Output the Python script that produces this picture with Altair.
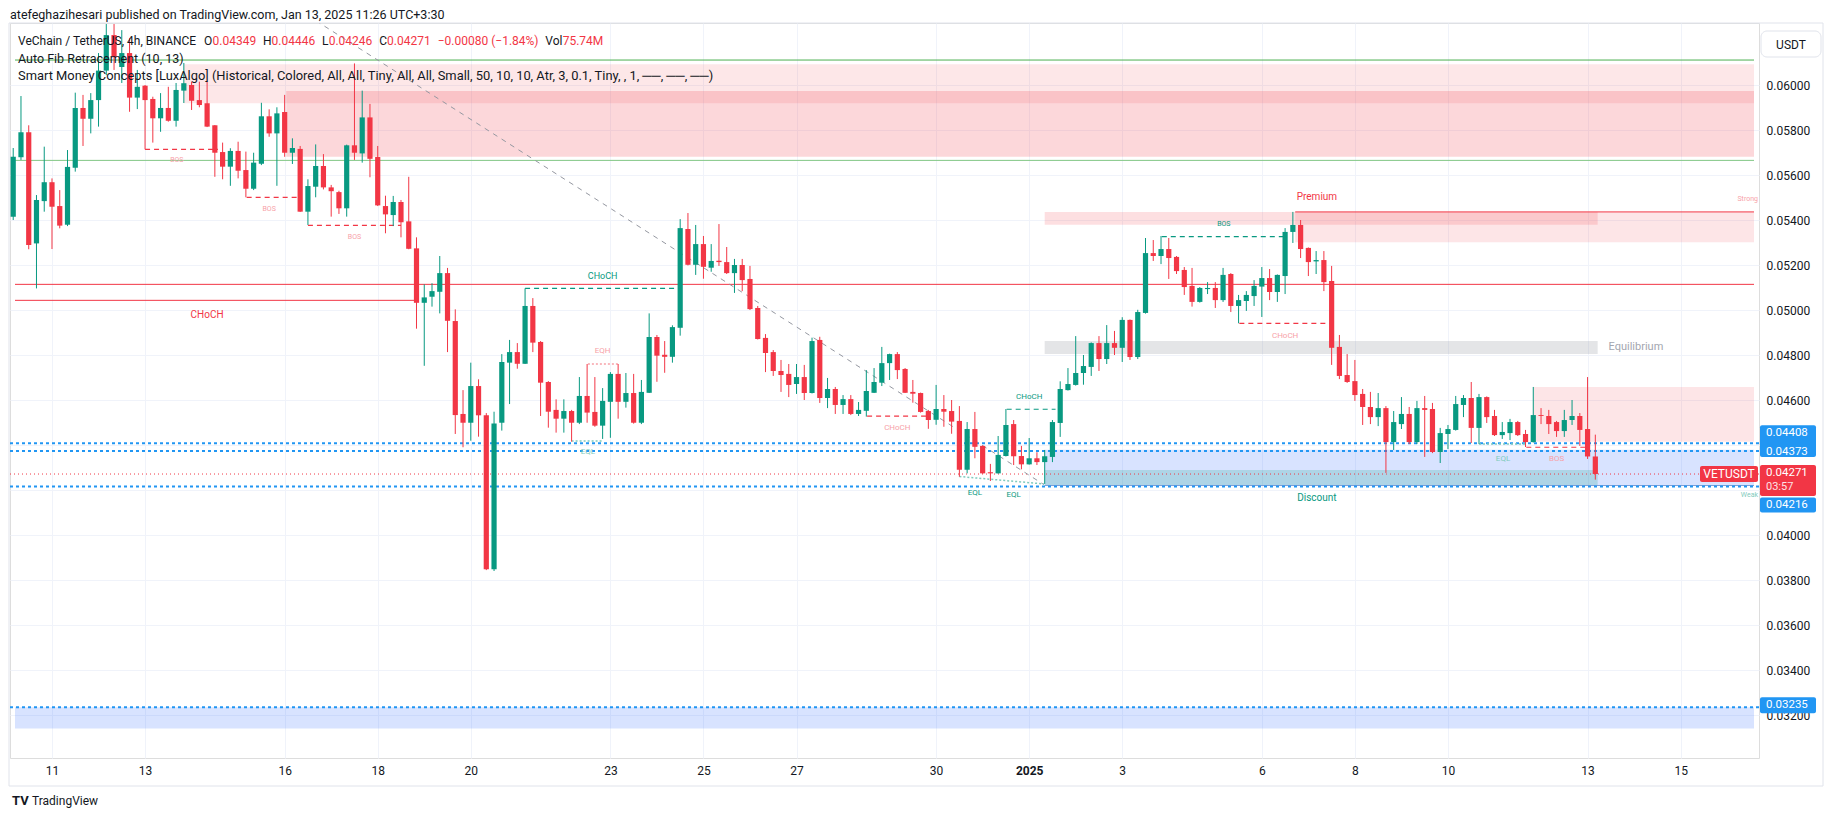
import altair as alt
import pandas as pd

alt.data_transformers.disable_max_rows()

# ---------------- data: VETUSDT 4h candles (first one partially visible) ----------------
first_bar = "2024-12-10T04:00:00"
opens = [0.05415,
 0.05679,0.05790,0.05296,0.05484,0.05568,0.05462,0.05379,0.05632,0.05898,0.05850,
 0.05933,0.06064,0.06222,0.06080,0.06142,0.05944,0.05997,0.05938,0.05852,0.05898,
 0.05841,0.05975,0.06000,0.05933,0.05919,0.05821,0.05702,0.05637,0.05707,0.05622,
 0.05539,0.05650,0.05861,0.05785,0.05880,0.05699,0.05716,0.05437,0.05548,0.05640,
 0.05545,0.05524,0.05452,0.05732,0.05696,0.05856,0.05680,0.05462,0.05422,0.05480,
 0.05394,0.05274,0.05032,0.05059,0.05081,0.05164,0.04951,0.04538,0.04499,0.04662,
 0.04532,0.03848,0.04499,0.04766,0.04813,0.04761,0.05018,0.04858,0.04680,0.04556,
 0.04517,0.04551,0.04499,0.04618,0.04547,0.04486,0.04592,0.04716,0.04592,0.04631,
 0.04499,0.04632,0.04880,0.04801,0.04792,0.04921,0.05360,0.05201,0.05293,0.05188,
 0.05219,0.05213,0.05164,0.05200,0.05138,0.05009,0.04876,0.04813,0.04729,0.04716,
 0.04671,0.04702,0.04631,0.04867,0.04609,0.04649,0.04578,0.04604,0.04538,0.04552,
 0.04632,0.04677,0.04764,0.04804,0.04738,0.04636,0.04631,0.04551,0.04512,0.04560,
 0.04551,0.04507,0.04290,0.04471,0.04396,0.04279,0.04274,0.04351,0.04493,0.04351,
 0.04314,0.04341,0.04324,0.04347,0.04498,0.04644,0.04667,0.04720,0.04747,0.04853,
 0.04782,0.04853,0.04832,0.04956,0.04791,0.04987,0.05253,0.05240,0.05271,0.05236,
 0.05178,0.05107,0.05036,0.05093,0.05098,0.05044,0.05160,0.05018,0.05040,0.05062,
 0.05104,0.05142,0.05080,0.05151,0.05347,0.05378,0.05276,0.05216,0.05222,0.05129,
 0.04836,0.04711,0.04684,0.04627,0.04569,0.04524,0.04564,0.04413,0.04493,0.04538,
 0.04413,0.04564,0.04560,0.04369,0.04449,0.04467,0.04578,0.04609,0.04476,0.04613,
 0.04529,0.04444,0.04453,0.04502,0.04449,0.04413,0.04533,0.04529,0.04502,0.04462,
 0.04511,0.04529,0.04471,0.04349]
highs = [0.05720,
 0.05951,0.05821,0.05511,0.05726,0.05585,0.05533,0.05711,0.05966,0.05956,0.05964,
 0.06142,0.06271,0.06271,0.06244,0.06209,0.06067,0.06000,0.05948,0.05964,0.05992,
 0.06009,0.06098,0.06015,0.06015,0.06015,0.05822,0.05744,0.05719,0.05748,0.05704,
 0.05699,0.05921,0.05892,0.05901,0.05956,0.05763,0.05729,0.05581,0.05736,0.05693,
 0.05556,0.05530,0.05735,0.06096,0.05975,0.05916,0.05729,0.05508,0.05507,0.05489,
 0.05592,0.05323,0.05114,0.05119,0.05240,0.05187,0.05003,0.04644,0.04766,0.04692,
 0.04542,0.04548,0.04804,0.04867,0.04853,0.05096,0.05053,0.04862,0.04684,0.04603,
 0.04603,0.04556,0.04702,0.04760,0.04702,0.04653,0.04724,0.04760,0.04720,0.04716,
 0.04689,0.04985,0.04889,0.04862,0.04932,0.05404,0.05431,0.05378,0.05329,0.05293,
 0.05382,0.05280,0.05227,0.05227,0.05196,0.05018,0.04893,0.04822,0.04778,0.04760,
 0.04760,0.04756,0.04877,0.04881,0.04698,0.04658,0.04622,0.04622,0.04591,0.04733,
 0.04742,0.04836,0.04806,0.04813,0.04742,0.04689,0.04633,0.04556,0.04667,0.04622,
 0.04600,0.04573,0.04502,0.04547,0.04398,0.04316,0.04440,0.04560,0.04511,0.04396,
 0.04431,0.04368,0.04378,0.04511,0.04683,0.04742,0.04884,0.04800,0.04856,0.04884,
 0.04933,0.04907,0.04968,0.04958,0.05001,0.05320,0.05311,0.05329,0.05320,0.05240,
 0.05191,0.05187,0.05102,0.05124,0.05124,0.05187,0.05164,0.05067,0.05084,0.05133,
 0.05191,0.05182,0.05158,0.05364,0.05436,0.05400,0.05278,0.05262,0.05262,0.05196,
 0.04889,0.04804,0.04778,0.04649,0.04636,0.04631,0.04573,0.04551,0.04613,0.04569,
 0.04596,0.04618,0.04587,0.04476,0.04489,0.04618,0.04622,0.04680,0.04627,0.04616,
 0.04556,0.04502,0.04516,0.04507,0.04467,0.04658,0.04564,0.04556,0.04507,0.04556,
 0.04600,0.04542,0.04702,0.04446]
lows = [0.05400,
 0.05667,0.05270,0.05096,0.05437,0.05271,0.05363,0.05373,0.05615,0.05729,0.05785,
 0.05815,0.06044,0.06067,0.06009,0.05881,0.05893,0.05714,0.05744,0.05792,0.05837,
 0.05815,0.05920,0.05889,0.05901,0.05813,0.05592,0.05581,0.05552,0.05585,0.05501,
 0.05533,0.05644,0.05770,0.05552,0.05681,0.05649,0.05436,0.05378,0.05501,0.05536,
 0.05415,0.05427,0.05415,0.05667,0.05655,0.05590,0.05462,0.05341,0.05373,0.05323,
 0.05270,0.04917,0.04752,0.05015,0.04985,0.04813,0.04449,0.04390,0.04419,0.04437,
 0.03844,0.03840,0.04464,0.04582,0.04739,0.04760,0.04813,0.04529,0.04477,0.04455,
 0.04455,0.04415,0.04493,0.04499,0.04481,0.04427,0.04432,0.04517,0.04566,0.04495,
 0.04493,0.04631,0.04681,0.04721,0.04766,0.04886,0.05198,0.05156,0.05139,0.05170,
 0.05196,0.05160,0.05076,0.05084,0.05000,0.04869,0.04724,0.04707,0.04636,0.04613,
 0.04627,0.04600,0.04629,0.04587,0.04564,0.04538,0.04538,0.04533,0.04529,0.04526,
 0.04631,0.04662,0.04689,0.04693,0.04631,0.04588,0.04544,0.04472,0.04490,0.04481,
 0.04450,0.04259,0.04274,0.04341,0.04272,0.04240,0.04273,0.04349,0.04311,0.04292,
 0.04313,0.04311,0.04227,0.04324,0.04436,0.04642,0.04664,0.04668,0.04707,0.04729,
 0.04760,0.04800,0.04769,0.04778,0.04782,0.04984,0.05218,0.05204,0.05138,0.05160,
 0.05067,0.05015,0.05033,0.05071,0.05009,0.05036,0.04991,0.04941,0.04996,0.05018,
 0.04969,0.05044,0.05036,0.05071,0.05298,0.05231,0.05151,0.05160,0.05084,0.04756,
 0.04693,0.04676,0.04596,0.04489,0.04493,0.04484,0.04276,0.04378,0.04471,0.04404,
 0.04404,0.04347,0.04364,0.04320,0.04382,0.04464,0.04524,0.04409,0.04404,0.04498,
 0.04440,0.04427,0.04422,0.04440,0.04391,0.04411,0.04493,0.04449,0.04436,0.04436,
 0.04489,0.04396,0.04338,0.04246]
closes = [0.05681,
 0.05790,0.05289,0.05489,0.05568,0.05459,0.05375,0.05636,0.05898,0.05850,0.05933,
 0.06064,0.06222,0.06124,0.06142,0.05944,0.05992,0.05933,0.05852,0.05898,0.05841,
 0.05978,0.06008,0.05930,0.05911,0.05815,0.05699,0.05637,0.05707,0.05619,0.05539,
 0.05655,0.05861,0.05785,0.05874,0.05699,0.05720,0.05437,0.05551,0.05640,0.05545,
 0.05528,0.05452,0.05732,0.05699,0.05856,0.05672,0.05465,0.05425,0.05480,0.05390,
 0.05272,0.05032,0.05056,0.05084,0.05164,0.04952,0.04533,0.04499,0.04662,0.04532,
 0.03848,0.04496,0.04769,0.04813,0.04761,0.05018,0.04855,0.04677,0.04548,0.04517,
 0.04551,0.04499,0.04618,0.04544,0.04486,0.04596,0.04716,0.04592,0.04631,0.04499,
 0.04636,0.04880,0.04797,0.04792,0.04924,0.05364,0.05201,0.05293,0.05192,0.05218,
 0.05213,0.05164,0.05200,0.05133,0.05004,0.04871,0.04809,0.04729,0.04711,0.04667,
 0.04702,0.04631,0.04862,0.04609,0.04649,0.04578,0.04604,0.04538,0.04556,0.04640,
 0.04680,0.04764,0.04804,0.04733,0.04632,0.04628,0.04547,0.04511,0.04560,0.04548,
 0.04504,0.04290,0.04471,0.04392,0.04274,0.04274,0.04356,0.04489,0.04350,0.04314,
 0.04341,0.04324,0.04350,0.04502,0.04649,0.04671,0.04720,0.04751,0.04853,0.04782,
 0.04853,0.04832,0.04956,0.04791,0.04991,0.05253,0.05240,0.05271,0.05231,0.05173,
 0.05102,0.05036,0.05098,0.05098,0.05044,0.05156,0.05018,0.05044,0.05067,0.05107,
 0.05142,0.05080,0.05156,0.05347,0.05378,0.05271,0.05213,0.05222,0.05124,0.04832,
 0.04707,0.04680,0.04622,0.04569,0.04524,0.04564,0.04413,0.04502,0.04538,0.04413,
 0.04564,0.04556,0.04369,0.04453,0.04471,0.04582,0.04609,0.04476,0.04613,0.04524,
 0.04444,0.04458,0.04502,0.04444,0.04413,0.04533,0.04529,0.04493,0.04462,0.04511,
 0.04529,0.04467,0.04349,0.04271]

# time-axis tick dates and labels
tick_dates = ["2024-12-11", "2024-12-13", "2024-12-16", "2024-12-18", "2024-12-20",
              "2024-12-23", "2024-12-25", "2024-12-27", "2024-12-30", "2025-01-01",
              "2025-01-03", "2025-01-06", "2025-01-08", "2025-01-10", "2025-01-13",
              "2025-01-15"]
price_ticks = [0.032, 0.034, 0.036, 0.038, 0.040, 0.042, 0.044, 0.046, 0.048,
               0.050, 0.052, 0.054, 0.056, 0.058, 0.060]

# Smart-money zones: (start bar, end bar, top, bottom, colour, opacity)
VIEW_START, VIEW_END = 0.23, 224.46
zones = [
    (22.0, VIEW_END, 0.06092, 0.05919, "#f23645", 0.12),
    (35.2, VIEW_END, 0.05973, 0.05681, "#f23645", 0.20),
    (133.0, 204.3, 0.05436, 0.05379, "#f23645", 0.16),
    (165.3, VIEW_END, 0.05436, 0.05301, "#f23645", 0.13),
    (133.0, 204.3, 0.04862, 0.04804, "#787b86", 0.20),
    (133.0, VIEW_END, 0.04379, 0.04222, "#2962ff", 0.18),
    (133.0, 204.3, 0.04289, 0.04222, "#089981", 0.20),
    (196.0, VIEW_END, 0.04658, 0.04415, "#f23645", 0.13),
    (VIEW_START, VIEW_END, 0.03235, 0.03140, "#2962ff", 0.18),
]
# solid horizontal levels: (start bar, end bar, price, colour)
levels = [
    (VIEW_START, VIEW_END, 0.06111, "#4caf50"),
    (VIEW_START, VIEW_END, 0.05665, "#81c784"),
    (VIEW_START, VIEW_END, 0.05114, "#f23645"),
    (VIEW_START, 51.9, 0.05043, "#f23645"),
    (165.3, VIEW_END, 0.05436, "#f23645"),
    (133.0, VIEW_END, 0.04220, "#7f9fd6"),
]
# structure breaks (dashed): (start bar, end bar, price, colour)
breaks = [
    (17.0, 26.4, 0.05714, "#f23645"), (30.1, 36.6, 0.05501, "#f23645"),
    (38.0, 50.0, 0.05376, "#f23645"), (66.0, 85.7, 0.05096, "#089981"),
    (110.1, 118.0, 0.04528, "#f23645"), (128.1, 134.4, 0.04559, "#089981"),
    (148.1, 164.2, 0.05326, "#089981"), (158.1, 170.0, 0.04941, "#f23645"),
    (195.1, 202.8, 0.04390, "#f23645"),
]
# equal highs / lows (dotted): (start bar, end bar, start price, end price, colour)
equals = [
    (74.1, 78.1, 0.04760, 0.04760, "#f7a1a8"),
    (72.0, 76.0, 0.04418, 0.04418, "#7fcbbd"),
    (122.0, 132.9, 0.04260, 0.04227, "#7fcbbd"),
    (189.0, 195.0, 0.04404, 0.04404, "#7fcbbd"),
]
# auto-fib trend line
fib_bars = [26.0, 132.9]
fib_prices = [0.06572, 0.04224]
# dotted blue price levels shown on the scale
blue_levels = [0.04408, 0.04373, 0.04216, 0.03235]
last_price = 0.04271

# annotation labels: (bar, price, text, colour, size)
labels = [
    (25.0, 0.04978, "CHoCH", "#f23645", 10),
    (21.1, 0.05665, "BOS", "#f7a1a8", 7), (33.0, 0.05448, "BOS", "#f7a1a8", 7),
    (44.0, 0.05326, "BOS", "#f7a1a8", 7),
    (76.0, 0.05152, "CHoCH", "#089981", 9), (76.0, 0.04816, "EQH", "#f7a1a8", 8),
    (74.1, 0.04370, "EQL", "#7fcbbd", 8),
    (114.0, 0.04474, "CHoCH", "#f7a1a8", 8), (131.0, 0.04615, "CHoCH", "#089981", 8),
    (124.0, 0.04188, "EQL", "#089981", 8), (129.0, 0.04176, "EQL", "#089981", 8),
    (156.1, 0.05381, "BOS", "#089981", 7), (164.0, 0.04886, "CHoCH", "#f7a1a8", 8),
    (168.1, 0.05504, "Premium", "#f23645", 10), (168.1, 0.04163, "Discount", "#089981", 10),
    (192.1, 0.04336, "EQL", "#7fcbbd", 8), (199.0, 0.04336, "BOS", "#f7a1a8", 8),
]

# ---------------- layout ----------------
W, H = 1749, 735
Y_MIN, Y_MAX = 0.030089, 0.062756
GREEN, RED, BLUE, INK = "#089981", "#f23645", "#2196f3", "#131722"
FONT = "Roboto"

MS_4H = 4 * 3600 * 1000
t0 = int(pd.Timestamp(first_bar, tz="UTC").value // 10**6)


def bt(k):
    return t0 + k * MS_4H


xscale = alt.Scale(type="utc", domain=[bt(VIEW_START), bt(VIEW_END)])
yscale = alt.Scale(domain=[Y_MIN, Y_MAX], nice=False, zero=False)
tick_ms = [int(pd.Timestamp(d, tz="UTC").value // 10**6) for d in tick_dates]

is_jan1 = "utcFormat(datum.value, '%m%d') == '0101'"
xaxis = alt.Axis(values=tick_ms, labelExpr=f"{is_jan1} ? '2025' : utcFormat(datum.value, '%-d')",
                 grid=True, gridColor="#f0f3fa", domain=False, ticks=False, labelPadding=7,
                 labelFontSize=12, labelColor=INK, labelFont=FONT, title=None,
                 labelFontWeight={"condition": {"test": is_jan1, "value": "bold"}, "value": "normal"})
yaxis = alt.Axis(values=price_ticks, format=".5f", orient="right", grid=True, gridColor="#f0f3fa",
                 domain=False, ticks=False, labelPadding=7, labelFontSize=12, labelColor=INK,
                 labelFont=FONT, title=None)


def X(field):
    return alt.X(field, type="temporal", scale=xscale, axis=xaxis)


def Y(field):
    return alt.Y(field, type="quantitative", scale=yscale, axis=yaxis)


candles = pd.DataFrame({
    "t": [bt(k) for k in range(len(opens))],
    "o": opens, "h": highs, "l": lows, "c": closes,
})
candles["col"] = [GREEN if c >= o else RED for o, c in zip(opens, closes)]

zone_df = pd.DataFrame([{"a": bt(s), "b": bt(e), "p1": t, "p2": b, "col": c, "op": o}
                        for s, e, t, b, c, o in zones])
lvl_df = pd.DataFrame([{"a": bt(s), "b": bt(e), "p": p, "col": c} for s, e, p, c in levels])
brk_df = pd.DataFrame([{"a": bt(s), "b": bt(e), "p": p, "col": c} for s, e, p, c in breaks])
eq_rows = []
for n, (s, e, p1, p2, c) in enumerate(equals):
    eq_rows += [{"g": n, "t": bt(s), "p": p1, "col": c}, {"g": n, "t": bt(e), "p": p2, "col": c}]
eq_df = pd.DataFrame(eq_rows)
fib_df = pd.DataFrame({"t": [bt(k) for k in fib_bars], "p": fib_prices})
lab_df = pd.DataFrame([{"t": bt(k), "p": p, "text": s, "col": c, "fs": f} for k, p, s, c, f in labels])
one = pd.DataFrame({"z": [0]})

layers = []

# grid / axes carrier
layers.append(alt.Chart(candles).mark_rule(opacity=0).encode(x=X("t"), y=Y("h")))

# zones
layers.append(alt.Chart(zone_df).mark_rect(clip=True).encode(
    x=X("a"), x2="b", y=Y("p1"), y2="p2",
    color=alt.Color("col:N", scale=None), opacity=alt.Opacity("op:Q", scale=None)))

# solid levels
layers.append(alt.Chart(lvl_df).mark_rule(clip=True, strokeWidth=1).encode(
    x=X("a"), x2="b", y=Y("p"), color=alt.Color("col:N", scale=None)))

# dotted blue levels and last price
layers.append(alt.Chart(pd.DataFrame({"p": blue_levels})).mark_rule(
    clip=True, strokeWidth=2, strokeDash=[3, 3], color=BLUE).encode(y=Y("p")))
layers.append(alt.Chart(pd.DataFrame({"p": [last_price]})).mark_rule(
    clip=True, strokeWidth=1, strokeDash=[1, 3], color=RED).encode(y=Y("p")))

# fib trend line
layers.append(alt.Chart(fib_df).mark_line(clip=True, strokeWidth=1, strokeDash=[5, 5],
                                          color="#9598a1").encode(x=X("t"), y=Y("p")))

# equal highs / lows
layers.append(alt.Chart(eq_df).mark_line(clip=True, strokeWidth=1.5, strokeDash=[2, 2]).encode(
    x=X("t"), y=Y("p"), detail="g:N", color=alt.Color("col:N", scale=None)))

# structure breaks
layers.append(alt.Chart(brk_df).mark_rule(clip=True, strokeWidth=1.2, strokeDash=[5, 4]).encode(
    x=X("a"), x2="b", y=Y("p"), color=alt.Color("col:N", scale=None)))

# candles
layers.append(alt.Chart(candles).mark_rule(clip=True, strokeWidth=1).encode(
    x=X("t"), y=Y("l"), y2="h", color=alt.Color("col:N", scale=None)))
layers.append(alt.Chart(candles).mark_bar(clip=True, size=5.2).encode(
    x=X("t"), y=Y("o"), y2="c", color=alt.Color("col:N", scale=None)))

# labels
for fs in sorted(set(lab_df["fs"])):
    layers.append(alt.Chart(lab_df[lab_df["fs"] == fs]).mark_text(
        fontSize=int(fs), font=FONT, align="center", baseline="middle").encode(
        x=X("t"), y=Y("p"), text="text:N", color=alt.Color("col:N", scale=None)))
layers.append(alt.Chart(one).mark_text(text="Equilibrium", fontSize=11, font=FONT, align="left",
                                       baseline="middle", color="#a3a6af").encode(
    x=X("t"), y=Y("p")).transform_calculate(t=str(bt(205.7)), p="0.04834"))
layers.append(alt.Chart(one).mark_text(text="Strong", fontSize=7, font=FONT, align="right",
                                       baseline="middle", color="#f7a1a8").encode(
    x=alt.value(W - 1), y=Y("p")).transform_calculate(p="0.05492"))
layers.append(alt.Chart(one).mark_text(text="Weak", fontSize=7, font=FONT, align="right",
                                       baseline="middle", color="#7fcbbd").encode(
    x=alt.value(W - 1), y=Y("p")).transform_calculate(p="0.04178"))


# price-scale boxes
def pbox(p_top, p_bot, dy1, dy2, col, x1=W + 1, x2=W + 57):
    return alt.Chart(one).mark_rect(color=col, yOffset=dy1, y2Offset=dy2, cornerRadius=2).encode(
        x=alt.value(x1), x2=alt.value(x2), y=Y("pt"), y2="pb").transform_calculate(
        pt=str(p_top), pb=str(p_bot))


def ptext(p, txt, dy, col="white", x=W + 7, fs=12, align="left"):
    return alt.Chart(one).mark_text(text=txt, fontSize=fs, font=FONT, align=align,
                                    baseline="middle", color=col, yOffset=dy).encode(
        x=alt.value(x), y=Y("p")).transform_calculate(p=str(p))


layers.append(pbox(0.04408, 0.04373, -18, 6, BLUE))
layers.append(ptext(0.04408, "0.04408", -10, fs=11.5))
layers.append(ptext(0.04373, "0.04373", 0.5, fs=11.5))
layers.append(pbox(last_price, last_price, -9, 22, RED))
layers.append(ptext(last_price, "0.04271", -1.5, fs=11.5))
layers.append(ptext(last_price, "03:57", 13, col="#fde3e6", fs=11))
layers.append(pbox(0.04216, 0.04216, 11, 26, BLUE))
layers.append(ptext(0.04216, "0.04216", 18.5, fs=11.5))
layers.append(pbox(0.03235, 0.03235, -10, 6, BLUE))
layers.append(ptext(0.03235, "0.03235", -2, fs=11.5))
layers.append(pbox(last_price, last_price, -8, 8, RED, x1=W - 59, x2=W - 1))
layers.append(ptext(last_price, "VETUSDT", 0, x=W - 30, align="center"))

# USDT currency box
layers.append(alt.Chart(one).mark_rect(fill="white", stroke="#e0e3eb", cornerRadius=6).encode(
    x=alt.value(W + 2), x2=alt.value(W + 62), y=alt.value(8), y2=alt.value(34)))
layers.append(alt.Chart(one).mark_text(text="USDT", fontSize=12, font=FONT, align="center",
                                       baseline="middle", color=INK).encode(
    x=alt.value(W + 32), y=alt.value(22)))

# frame
layers.append(alt.Chart(one).mark_rect(fill=None, stroke="#e0e3eb", strokeWidth=1).encode(
    x=alt.value(-1), x2=alt.value(W + 64), y=alt.value(0), y2=alt.value(H + 28)))


# header texts
def htxt(txt, x, y, col=INK, fs=13, weight="normal"):
    return alt.Chart(one).mark_text(text=txt, fontSize=fs, font=FONT, align="left",
                                    baseline="middle", color=col, fontWeight=weight).encode(
        x=alt.value(x), y=alt.value(y))


layers.append(htxt("atefeghazihesari published on TradingView.com, Jan 13, 2025 11:26 UTC+3:30",
                   0, -8, fs=12.5))
legend_parts = [
    ("VeChain / TetherUS, 4h, BINANCE", INK, 8),
    ("O", INK, 194), ("0.04349", RED, 202.5),
    ("H", INK, 253), ("0.04446", RED, 261.6),
    ("L", INK, 312), ("0.04246", RED, 318.7),
    ("C", INK, 369.3), ("0.04271", RED, 377.1),
    ("\u22120.00080 (\u22121.84%)", RED, 427.7),
    ("Vol", INK, 535.3), ("75.74M", RED, 552.7),
]
for txt, col, x in legend_parts:
    layers.append(htxt(txt, x, 18, col=col, fs=12))
layers.append(htxt("Auto Fib Retracement (10, 13)", 8, 35.5, fs=12.5))
layers.append(htxt("Smart Money Concepts [LuxAlgo] (Historical, Colored, All, All, Tiny, All, All, "
                   "Small, 50, 10, 10, Atr, 3, 0.1, Tiny, , 1, \u2500\u2500, \u2500\u2500, \u2500\u2500)",
                   8, 53, fs=12.9))

# TradingView logo
layers.append(htxt("TV", 2, H + 43, fs=13, weight="bold"))
layers.append(htxt("TradingView", 22, H + 43, fs=12))

chart = alt.layer(*layers).properties(
    width=W, height=H,
    padding={"left": 2, "top": 15, "right": 66, "bottom": 50},
    autosize=alt.AutoSizeParams(type="none"),
).configure_view(stroke=None).configure(background="white")

chart.save("out.html", embed_options={"renderer": "svg", "actions": False})
